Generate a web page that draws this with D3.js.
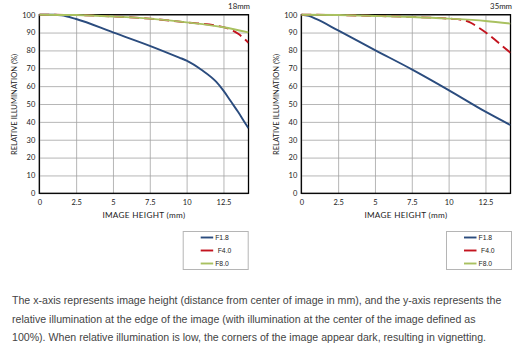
<!DOCTYPE html>
<html><head><meta charset="utf-8">
<script src="https://cdn.jsdelivr.net/npm/d3@7"></script>
<style>body{margin:0;background:#fff}svg{display:block}</style>
</head><body>
<svg id="c" width="522" height="357"></svg>
<script>
// ---- data ----
const xTicks = [0, 2.5, 5, 7.5, 10, 12.5];
const yTicks = [0, 10, 20, 30, 40, 50, 60, 70, 80, 90, 100];
const seriesNames = ["F1.8", "F4.0", "F8.0"];
const panelTitles = ["18mm", "35mm"];
const xLabel = "IMAGE HEIGHT (mm)";
const yLabel = "RELATIVE ILLUMINATION (%)";
const xMax = 14.2;

// 18mm
const h18_F18 = [0, 1, 1.5, 2.5, 5, 7.5, 9.5, 10, 11, 12, 12.5, 13, 13.5, 14, 14.2];
const v18_F18 = [100, 100, 99.7, 97.6, 90.1, 82.6, 76, 74.3, 69.2, 62.5, 57.5, 51.5, 45.5, 39, 36.5];
const h18_F40 = [0, 2.5, 5, 7.5, 10, 12.5, 13, 13.5, 14.2];
const v18_F40 = [100, 99.8, 99, 97.8, 95.7, 93, 91.7, 89.3, 84.3];
const h18_F80 = [0, 2.5, 5, 7.5, 10, 12.5, 14.2];
const v18_F80 = [100, 99.8, 99, 97.8, 95.7, 93, 90.1];

// 35mm
const h35_F18 = [0, 0.5, 1, 2.5, 5, 7.5, 10, 12.5, 14.2];
const v35_F18 = [100, 99.3, 97.6, 91.2, 80.2, 69.4, 57.8, 45.7, 38.2];
const h35_F40 = [0, 2.5, 5, 7.5, 10, 11, 11.5, 12, 12.5, 13, 13.5, 14.2];
const v35_F40 = [100, 99.8, 99.3, 98.7, 97.8, 97, 95.5, 93, 90.2, 87, 83.5, 78.7];
const h35_F80 = [0, 2.5, 5, 7.5, 10, 12.5, 14.2];
const v35_F80 = [100, 99.8, 99.3, 98.7, 97.8, 96.5, 95];

const captionLines = [
  "The x-axis represents image height (distance from center of image in mm), and the y-axis represents the",
  "relative illumination at the edge of the image (with illumination at the center of the image defined as",
  "100%). When relative illumination is low, the corners of the image appear dark, resulting in vignetting."
];

// ---- styles ----
const colors = {"F1.8": "#2b4c7e", "F4.0": "#c3141f", "F8.0": "#a9c160"};
const dashes = {"F1.8": null, "F4.0": "10,5", "F8.0": null};
const chartFont = "Lato, 'DejaVu Sans', sans-serif";

const panels = [
  {left: 39.3, title: panelTitles[0], series: [[h18_F18, v18_F18], [h18_F40, v18_F40], [h18_F80, v18_F80]]},
  {left: 301.3, title: panelTitles[1], series: [[h35_F18, v35_F18], [h35_F40, v35_F40], [h35_F80, v35_F80]]}
];
const plotTop = 14.7, W = 209.2, H = 178.6;

const svg = d3.select("#c");
svg.append("rect").attr("width", 522).attr("height", 357).attr("fill", "#fff");

const x = d3.scaleLinear().domain([0, xMax]).range([0, W]);
const y = d3.scaleLinear().domain([0, 100]).range([H, 0]);

panels.forEach((p, pi) => {
  const g = svg.append("g").attr("transform", `translate(${p.left},${plotTop})`);
  // grid
  g.append("g").attr("transform", `translate(0,${H})`)
    .call(d3.axisBottom(x).tickValues(xTicks).tickSize(-H).tickFormat(""))
    .call(s => s.select(".domain").remove())
    .call(s => s.selectAll("line").attr("stroke", "#a3a3a3").attr("stroke-width", 0.8));
  g.append("g")
    .call(d3.axisLeft(y).tickValues(yTicks).tickSize(-W).tickFormat(""))
    .call(s => s.select(".domain").remove())
    .call(s => s.selectAll("line").attr("stroke", "#a3a3a3").attr("stroke-width", 0.8));
  // tick labels
  g.append("g").attr("transform", `translate(0,${H})`)
    .call(d3.axisBottom(x).tickValues(xTicks).tickSize(0).tickPadding(6).tickFormat(d => String(d)))
    .call(s => s.select(".domain").remove())
    .call(s => s.selectAll("text").attr("font-family", chartFont).attr("font-size", 7.5).attr("fill", "#222"));
  g.append("g")
    .call(d3.axisLeft(y).tickValues(yTicks).tickSize(0).tickPadding(4).tickFormat(d => String(d)))
    .call(s => s.select(".domain").remove())
    .call(s => s.selectAll("text").attr("font-family", chartFont).attr("font-size", 7.5).attr("fill", "#222"));
  // frame
  g.append("rect").attr("width", W).attr("height", H).attr("fill", "none")
    .attr("stroke", "#000").attr("stroke-width", 1.3);
  // lines
  const clipId = "clip" + pi;
  g.append("clipPath").attr("id", clipId).append("rect")
    .attr("x", 0).attr("y", -3).attr("width", W).attr("height", H + 6);
  const line = d3.line().x(d => x(d[0])).y(d => y(d[1])).curve(d3.curveMonotoneX);
  [0, 1, 2].forEach(si => {
    const name = seriesNames[si];
    const [hs, vs] = p.series[si];
    const pts = hs.map((h, i) => [h, vs[i]]);
    g.append("path").attr("clip-path", `url(#${clipId})`)
      .attr("d", line(pts)).attr("fill", "none")
      .attr("stroke", colors[name]).attr("stroke-width", 1.9)
      .attr("stroke-dasharray", dashes[name]);
  });
  // titles
  g.append("text").attr("x", W + 1.5).attr("y", -6).attr("text-anchor", "end")
    .attr("font-family", chartFont).attr("font-size", 7.8).attr("fill", "#222").text(p.title);
  g.append("text").attr("x", W / 2).attr("y", H + 25).attr("text-anchor", "middle")
    .attr("font-family", chartFont).attr("font-size", 8.2).attr("letter-spacing", 0.3)
    .attr("fill", "#222").text(xLabel);
  g.append("text").attr("transform", `translate(-22,${H / 2 + 0.5}) rotate(-90)`)
    .attr("text-anchor", "middle")
    .attr("font-family", chartFont).attr("font-size", 7.6).attr("fill", "#222").text(yLabel);
  // legend
  const lg = svg.append("g").attr("transform", `translate(${p.left + 143.4 + (pi ? 1.3 : 0)},231)`);
  lg.append("rect").attr("x", 0.5).attr("y", 0.5).attr("width", 65).attr("height", 38)
    .attr("fill", "#fff").attr("stroke", "#b5b5b5").attr("stroke-width", 1);
  seriesNames.forEach((name, i) => {
    const yy = 6.5 + i * 13;
    lg.append("line").attr("x1", 18).attr("x2", 30.5).attr("y1", yy).attr("y2", yy)
      .attr("stroke", colors[name]).attr("stroke-width", 1.9);
    lg.append("text").attr("x", name === "F4.0" ? 35 : 32.5).attr("y", yy + 2.4)
      .attr("font-family", "'Liberation Sans', Arial, sans-serif").attr("font-size", 6.8)
      .attr("fill", "#222").text(name);
  });
});

// caption
const cap = svg.append("g");
captionLines.forEach((t, i) => {
  cap.append("text").attr("x", 12).attr("y", 304 + i * 18.6)
    .attr("font-family", "'Liberation Sans', Arial, sans-serif").attr("font-size", 10.6)
    .attr("fill", "#444").text(t);
});
</script>
</body></html>
